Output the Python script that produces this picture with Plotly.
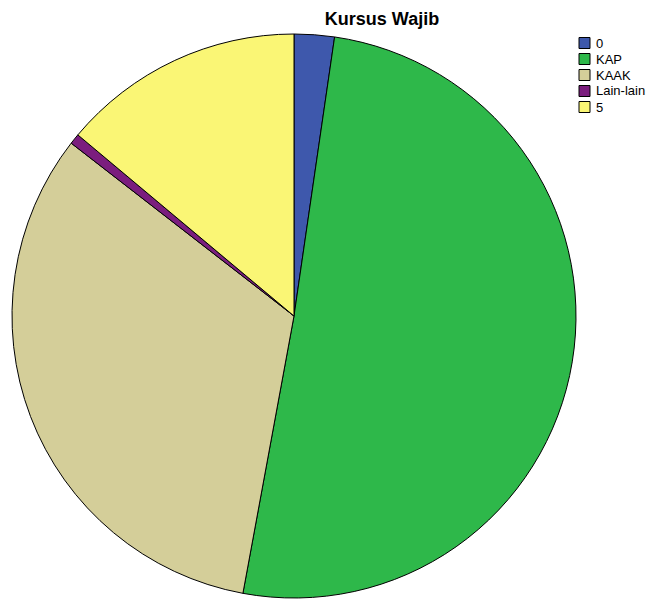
import plotly.graph_objects as go

labels = ["0", "KAP", "KAAK", "Lain-lain", "5"]
values = [2.3, 50.6, 32.6, 0.6, 13.9]
colors = ["#3E58AC", "#2EB84A", "#D4CE99", "#7B1D7E", "#FAF675"]

W, H = 664, 601
fig = go.Figure(go.Pie(
    labels=labels, values=values, sort=False, direction="clockwise", rotation=0,
    marker=dict(colors=colors, line=dict(color="#000000", width=1)),
    textinfo="none", hoverinfo="label+percent", showlegend=False,
    domain=dict(x=[12 / W, 576 / W], y=[1 - 598 / H, 1 - 34 / H]),
))

# manual legend (SPSS style: compact 16px rows)
shapes = []
annotations = []
for i, (lab, col) in enumerate(zip(labels, colors)):
    cy = 43 + 16 * i
    shapes.append(dict(type="rect", xref="paper", yref="paper",
                       x0=579 / W, x1=590 / W, y0=1 - (cy + 5.5) / H, y1=1 - (cy - 5.5) / H,
                       fillcolor=col, line=dict(color="#000000", width=1)))
    annotations.append(dict(text=lab, xref="paper", yref="paper", x=594 / W, y=1 - cy / H,
                            xanchor="left", yanchor="middle", showarrow=False,
                            font=dict(size=13, color="#000000")))

fig.update_layout(
    width=W, height=H, margin=dict(l=0, r=0, t=0, b=0),
    paper_bgcolor="white", plot_bgcolor="white",
    font=dict(family="Liberation Sans, Arial, sans-serif", color="#000000"),
    title=dict(text="<b>Kursus Wajib</b>", x=382 / W, xanchor="center",
               y=1 - 19 / H, yanchor="middle", font=dict(size=18)),
    shapes=shapes, annotations=annotations,
)
fig.write_html("out.html", config={"displayModeBar": False},
               post_script="document.body.style.margin='0';document.body.style.overflow='hidden';")
